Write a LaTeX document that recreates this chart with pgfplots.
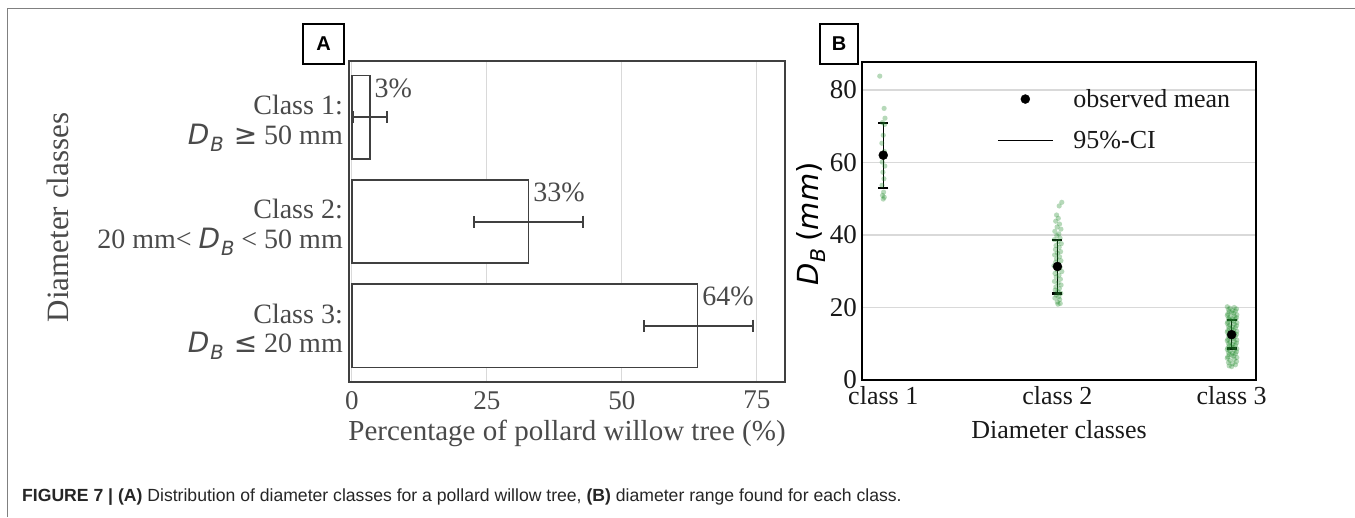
\documentclass[border=0pt]{standalone}
\usepackage{fontspec}
\setmainfont{Liberation Serif}
\newfontfamily\djs{DejaVu Sans}
\newfontfamily\capfont{Liberation Sans}
\usepackage{graphicx}
\usepackage{pgfplots}
\pgfplotsset{compat=1.18}
\pgfplotsset{/pgf/number format/assume math mode=true}
\definecolor{atext}{HTML}{4A4A4A}
\definecolor{aline}{HTML}{404040}
\definecolor{agrid}{HTML}{D9D9D9}
\definecolor{ptgreen}{RGB}{34,140,45}
\definecolor{framec}{HTML}{808080}
\newcommand\fs[2]{\fontsize{#1}{#2}\selectfont}
\DeclareRobustCommand\DB{{\djs\itshape D\kern0.03em\raisebox{-0.25em}{\scalebox{0.7}{B}}}}

\pgfplotstableread{
c v ep em lab
0 3.3 3.1 3.05 3
1 32.7 10.0 10.1 33
2 64.0 10.2 9.9 64
}\bardata

\pgfplotstableread{
x y
-0.020 83.8
0.005 74.9
0.010 72.2
-0.005 71.0
0.008 70.5
0.000 67.5
-0.008 65.3
0.006 63.0
0.003 61.5
-0.006 60.1
0.009 59.0
-0.002 57.3
0.004 55.5
-0.007 53.7
0.002 51.8
-0.004 50.9
0.006 50.4
0.000 49.9
1.025 49.0
1.010 48.0
0.995 45.5
1.005 44.6
0.990 43.8
1.012 43.0
0.998 42.2
1.020 41.6
0.985 41.0
1.008 40.3
0.996 39.8
1.015 39.1
0.982 38.7
1.004 38.2
1.022 37.6
0.992 37.1
1.010 36.6
0.988 36.0
1.018 35.4
1.000 35.0
0.984 34.5
1.012 34.0
0.995 33.4
1.020 32.9
0.990 32.5
1.006 32.0
0.980 31.5
1.015 31.0
0.997 30.4
1.025 29.9
0.986 29.4
1.009 28.9
0.993 28.4
1.017 27.8
0.983 27.2
1.004 26.7
1.021 26.2
0.991 25.7
1.011 25.2
0.987 24.8
1.002 24.4
1.019 23.9
0.994 23.4
1.008 23.0
0.985 22.6
1.013 22.2
0.999 21.5
1.016 21.1
1.003 20.9
1.975 20.2
2.015 20.0
1.990 19.8
2.028 19.6
1.982 19.4
2.006 19.2
2.022 19.0
1.986 18.8
2.000 18.6
2.012 18.4
1.978 18.2
2.030 18.0
1.975 17.8
2.015 17.6
1.990 17.4
2.028 17.2
1.982 17.0
2.006 16.9
2.022 16.8
1.986 16.6
2.000 16.4
2.012 16.2
1.978 16.0
2.030 15.8
1.975 15.6
2.015 15.4
1.990 15.2
2.028 15.0
1.982 14.8
2.006 14.6
2.022 14.4
1.986 14.2
2.000 14.0
2.012 13.8
1.978 13.6
2.030 13.4
1.975 13.2
2.015 13.0
1.990 12.8
2.028 12.6
1.982 12.4
2.006 12.2
2.022 12.0
1.986 11.8
2.000 11.6
2.012 11.4
1.978 11.2
2.030 11.0
1.975 10.8
2.015 10.6
1.990 10.4
2.028 10.2
1.982 10.0
2.006 9.8
2.022 9.6
1.986 9.4
2.000 9.2
2.012 9.0
1.978 8.8
2.030 8.6
1.975 8.4
2.015 8.2
1.990 8.0
2.028 7.8
1.982 7.6
2.006 7.4
2.022 7.2
1.986 7.0
2.000 6.8
2.012 6.6
1.978 6.4
2.030 6.2
1.975 6.0
2.015 5.7
1.990 5.4
2.028 5.1
1.982 4.8
2.006 4.5
2.022 4.2
1.986 3.9
2.000 3.7
}\pointdata

\begin{document}
\begin{tikzpicture}[x=1pt,y=1pt]
\useasboundingbox (0,0) rectangle (1355,517);
\fill[white] (0,0) rectangle (1355,517);
\draw[framec, line width=1.5pt] (7.5,0) -- (7.5,508.5) -- (1355,508.5);

% ---------------- Panel A ----------------
\begin{axis}[
  at={(349pt,135pt)}, anchor=south west,
  scale only axis, width=436pt, height=321pt,
  xmin=-0.55, xmax=80.2, ymin=-0.54, ymax=2.54, y dir=reverse,
  xtick={0,25,50,75}, ytick={0,1,2},
  yticklabels={{Class 1:\\\DB\hspace{10pt}{\djs ≥}\hspace{7pt}50 mm},
               {Class 2:\\20 mm< \DB~< 50 mm},
               {Class 3:\\\DB\hspace{10pt}{\djs ≤}\hspace{7pt}20 mm}},
  yticklabel style={align=right, anchor=east, inner sep=0pt, xshift=-6pt, yshift=-6pt, font=\fs{28}{29.5}, text=atext},
  xticklabel style={anchor=north, inner sep=0pt, yshift=-9pt, font=\fs{27}{30}, text=atext},
  major tick length=0pt,
  xmajorgrids, major grid style={agrid, line width=1pt},
  axis line style={aline, line width=1.8pt},
  xlabel={Percentage of pollard willow tree (\%)},
  xlabel style={at={(axis description cs:0.5,0)}, anchor=north, inner sep=0pt, yshift=-38pt, font=\fs{29}{32}, text=atext},
  clip=false,
]
\addplot[xbar, bar width=0.8, fill=white, draw=aline, line width=1.5pt,
  point meta=explicit,
  nodes near coords={\pgfmathprintnumber{\pgfplotspointmeta}\%},
  every node near coord/.append style={anchor=west, inner sep=0pt, xshift=4pt, yshift=29pt, font=\fs{28}{30}, text=atext},
  error bars/.cd, x dir=both, x explicit,
  error bar style={aline, line width=2pt},
  error mark options={aline, rotate=90, mark size=6pt, line width=2pt}]
  table[x=v, y=c, x error plus=ep, x error minus=em, meta=lab] {\bardata};
\end{axis}
\node[rotate=90, inner sep=0pt, font=\fs{31}{36}, text=atext] at (58,299.5) {Diameter classes};
\node[draw=black, line width=1.2pt, fill=white, minimum width=41pt, minimum height=40pt, inner sep=0pt, font=\capfont\bfseries\fs{20}{24}] at (323.5,473) {A};

% ---------------- Panel B ----------------
\begin{axis}[
  at={(862pt,137pt)}, anchor=south west,
  scale only axis, width=394pt, height=318pt,
  xmin=-0.122, xmax=2.14, ymin=0, ymax=87.7,
  xtick={0,1,2}, xticklabels={class 1, class 2, class 3},
  ytick={0,20,40,60,80},
  xticklabel style={anchor=north, inner sep=0pt, yshift=-6.5pt, font=\fs{26}{30}, text=black!90},
  yticklabel style={anchor=east, inner sep=0pt, xshift=-5pt, font=\fs{27}{30}, text=black!90},
  major tick length=0pt,
  ymajorgrids, major grid style={agrid, line width=1.2pt},
  axis line style={black, line width=2pt},
  xlabel={Diameter classes},
  xlabel style={at={(axis description cs:0.5,0)}, anchor=north, inner sep=0pt, yshift=-40pt, font=\fs{26}{30}, text=black!90},
  legend style={draw=none, fill=none, inner sep=0pt, at={(0.3426,0.9148)}, anchor=north west,
    font=\fs{26}{30}, row sep=22pt, column sep=20pt, nodes={inner sep=0pt}, text=black!90},
  legend cell align=left,
  clip=false,
]
\addplot[forget plot, only marks, mark=*, mark size=2.6pt,
  mark options={fill=ptgreen, draw=ptgreen, fill opacity=0.33, draw opacity=0}]
  table[x=x, y=y] {\pointdata};
\addplot[black, only marks, mark=*, mark size=4.5pt,
  legend image code/.code={\fill[black] (27.5pt,0pt) circle (4.5pt);},
  error bars/.cd, y dir=both, y explicit,
  error bar style={black, line width=1.3pt},
  error mark options={black, rotate=90, mark size=5pt, line width=2.5pt}]
  coordinates {(0,62.0) += (0,8.9) -= (0,9.1)
               (1,31.3) += (0,7.3) -= (0,7.4)
               (2,12.5) += (0,4.1) -= (0,3.8)};
\addlegendentry{observed mean}
\addlegendimage{legend image code/.code={\draw[black, line width=1.3pt] (0pt,0pt) -- (55pt,0pt);}}
\addlegendentry{95\%-CI}
\end{axis}
\node[rotate=90, inner sep=0pt, font=\fs{29}{34}] at (811,293) {\DB\ {\djs(\itshape mm\upshape)}};
\node[draw=black, line width=1.2pt, fill=white, minimum width=38pt, minimum height=40pt, inner sep=0pt, font=\capfont\bfseries\fs{20}{24}] at (839,473) {B};

% ---------------- Caption ----------------
\node[anchor=base west, inner sep=0pt, font=\capfont\fs{17.6}{20}, text=black!85] at (22,15.5)
  {\textbf{FIGURE 7 | (A)} Distribution of diameter classes for a pollard willow tree, \textbf{(B)} diameter range found for each class.};
\end{tikzpicture}
\end{document}
